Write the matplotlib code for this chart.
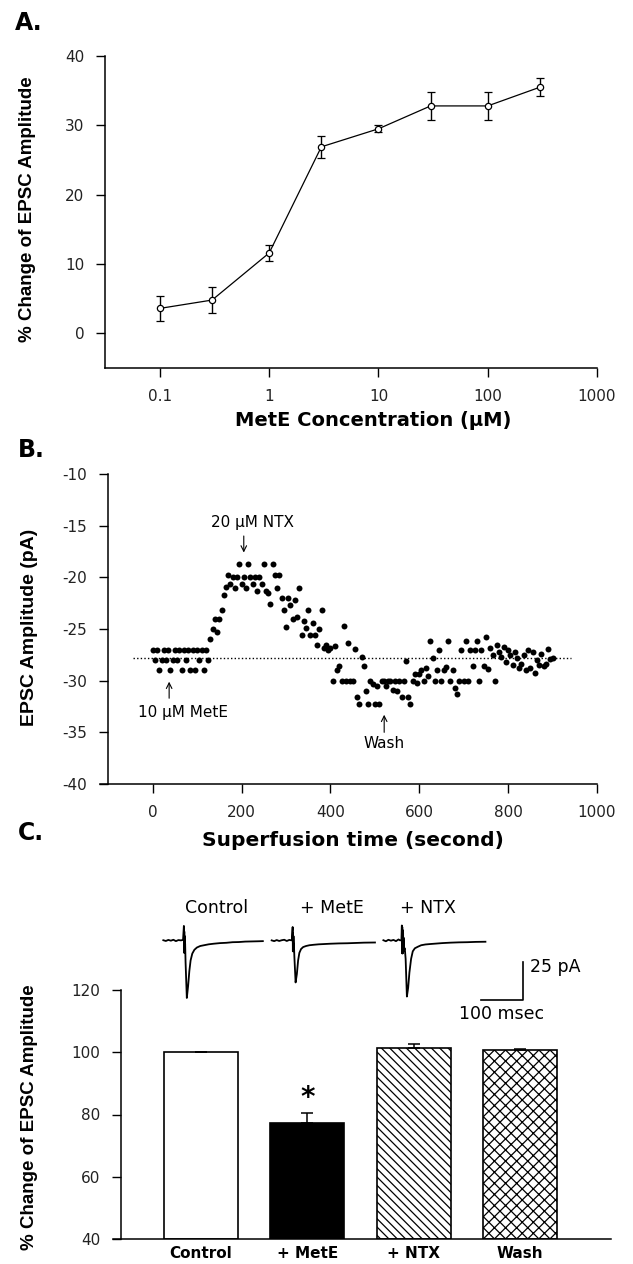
import numpy as np
import matplotlib
matplotlib.use("Agg")
import matplotlib.pyplot as plt
from matplotlib.ticker import NullLocator

plt.rcParams['font.family'] = ['DejaVu Sans']
plt.rcParams['axes.unicode_minus'] = False
plt.rcParams['hatch.linewidth'] = 0.9

# ---- data -------------------------------------------------------------
# A. concentration-response
conc = [0.1, 0.3, 1, 3, 10, 30, 100, 300]
change = [3.6, 4.8, 11.6, 26.9, 29.5, 32.8, 32.8, 35.5]
change_err = [1.8, 1.9, 1.1, 1.6, 0.5, 2.0, 2.0, 1.3]

# B. EPSC amplitude over time, one sample every 5 s (0 ... 900 s)
sample_step = 5
amp_baseline = [-27, -28, -27, -29, -28, -27, -28, -27, -29, -28, -27, -28, -27, -29,
                -27, -28, -27, -29, -27, -29, -27, -28, -27, -29, -27, -28, -26]
amp_rise = [-25, -24, -25.3, -24, -23.2, -21.7, -20.9]
amp_peak = [-19.8, -20.6, -20, -21, -20, -18.7, -20.6, -20, -21, -18.7, -20, -20.6,
            -20, -21.3, -20, -20.6, -18.7]
amp_fall1 = [-21.3, -21.5, -22.6, -18.7, -19.8, -21, -19.8, -22, -23.2, -24.8]
amp_fall2 = [-22, -22.7, -24, -22.2, -23.8, -21, -25.6, -24.2, -24.9, -23.2]
amp_fall3 = [-25.6, -24.4, -25.6, -26.5, -25, -23.2, -26.8, -26.5, -27, -26.8]
amp_dip1 = [-30, -26.6, -29, -28.6, -30, -24.7, -30, -26.4, -30, -30, -26.9, -31.6,
            -32.3, -27.7, -28.6, -31, -32.3, -30, -30.3, -32.3, -30.5, -32.3]
amp_dip2 = [-30, -30, -30.5, -30, -30, -30.9, -30, -31, -30, -31.6, -30, -28.1,
            -31.6, -32.3, -30, -29.4, -30.2, -29.4]
amp_wash1 = [-29, -30, -28.8, -29.5, -26.2, -27.8, -30, -29, -27, -30, -29, -28.7,
             -26.2, -30, -29, -30.7, -31.3, -30, -27, -30]
amp_wash2 = [-26.2, -30, -27, -28.6, -27, -26.2, -30, -27, -28.6, -25.8, -28.9, -26.8,
             -27.5, -30, -26.5, -27.2, -27.7, -26.7, -28.2, -27]
amp_wash3 = [-27.5, -28.5, -27.2, -27.8, -28.8, -28.4, -27.5, -29, -27, -28.8, -27.2,
             -29.3, -28, -28.5, -27.4, -28.6, -28.4, -26.9, -27.9, -27.8]
baseline_level = -27.8

# C. normalised EPSC amplitude
groups = ['Control', '+ MetE', '+ NTX', 'Wash']
pct = [100, 77.4, 101.3, 100.6]
pct_err = [0, 3.2, 1.2, 0.5]

# C. sample EPSC traces (ms, pA)
ctrl_t = [0, 6, 12, 18, 24, 30, 36, 42, 47, 49, 49.5, 50, 50.5, 51, 51.5, 52, 53,
          56, 59, 62, 65, 69, 74, 80, 88, 97, 108, 120, 135, 150, 165, 180, 195, 210, 225, 237]
ctrl_i = [0.3, -0.2, 0.5, 0, 0.6, -0.3, 0.4, 0.2, 0.5, 9.7, -8, 6, -7.5, 3, -6, -2, -14,
          -37.7, -30, -20, -13, -8.5, -6, -4.5, -3.5, -3, -2.4, -2, -1.6, -1.4, -1, -0.9,
          -0.6, -0.5, -0.4, -0.3]
mete_t = [0, 6, 12, 18, 24, 30, 36, 42, 48, 50, 50.5, 51, 51.5, 52, 52.5, 53, 54,
          57, 60, 63, 66, 70, 75, 82, 90, 100, 112, 126, 140, 160, 180, 200, 220, 246]
mete_i = [0.2, -0.3, 0.4, -0.2, 0.3, 0.6, -0.2, 0.5, 0.2, 9, -7, 5, -7, 3, -5, -2, -10,
          -27.5, -22, -13, -8, -5.5, -4.2, -3.5, -3, -2.7, -2.4, -2.2, -2, -1.8, -1.7,
          -1.5, -1.3, -1.2]
ntx_t = [0, 6, 12, 18, 24, 30, 36, 40, 43, 44, 44.5, 45, 45.5, 46, 46.5, 47, 47.5, 48,
         49, 51, 53, 56, 59, 62, 66, 70, 75, 82, 90, 100, 112, 126, 140, 160, 180, 200, 220, 243]
ntx_i = [0.3, -0.4, 0.6, 0, 0.5, -0.3, 0.8, 0.2, 0.4, 10, -8, 9, -8.5, 7, -8, 5, -7, 2,
         -6, -5, -12, -36.8, -31, -21, -12, -7, -5, -4, -3, -2.5, -2.2, -1.9, -1.6, -1.3,
         -1.1, -1, -0.8, -0.7]

amp = (amp_baseline + amp_rise + amp_peak + amp_fall1 + amp_fall2 + amp_fall3 +
       amp_dip1 + amp_dip2 + amp_wash1 + amp_wash2 + amp_wash3)
times = np.arange(len(amp)) * sample_step

# ---- figure -----------------------------------------------------------
W, H = 633, 1264
fig = plt.figure(figsize=(W / 100, H / 100), dpi=100)


def box(l, t, r, b):
    # pixel box -> figure fraction
    return [l / W, 1 - b / H, (r - l) / W, (b - t) / H]


tick_kw = dict(labelsize=11, labelcolor='#222', width=1.0, length=6.5, pad=8.5)
lab_font = dict(family='Liberation Sans', weight='bold', size=13.5)

# ---- A ----
axA = fig.add_axes(box(105, 56, 597, 368))
axA.errorbar(conc, change, yerr=change_err, fmt='-o', color='black', lw=0.9,
             ms=4.5, mfc='white', mew=0.9, capsize=3, elinewidth=1, capthick=1)
axA.set_xscale('log')
axA.set_xlim(10 ** -1.503, 1000)
axA.set_ylim(-5, 40)
axA.set_xticks([0.1, 1, 10, 100, 1000])
axA.set_xticklabels(['0.1', '1', '10', '100', '1000'])
axA.xaxis.set_minor_locator(NullLocator())
axA.set_yticks([0, 10, 20, 30, 40])
axA.set_xlabel('MetE Concentration (\u00b5M)', fontsize=14, fontweight='bold')
axA.xaxis.set_label_coords((373 - 105) / 492, (368 - 420) / 312)
axA.xaxis.label.set_va('center')
axA.set_ylabel('% Change of EPSC Amplitude', **lab_font)
axA.yaxis.set_label_coords((28 - 105) / 492, 0.51)
axA.yaxis.label.set_va('center')

# ---- B ----
axB = fig.add_axes(box(100, 474, 597, 784))
axB.plot(times, amp, 'o', color='black', ms=4.3, mew=0)
axB.hlines(baseline_level, -44, 942, colors='black', linestyles=(0, (1, 1.6)), lw=1.0)
axB.set_xlim(-118.6, 1000)
axB.set_ylim(-40, -10)
axB.spines['left'].set_position(('data', -100))
axB.set_xticks([0, 200, 400, 600, 800, 1000])
axB.set_yticks([-40, -35, -30, -25, -20, -15, -10])
axB.set_xlabel('Superfusion time (second)', fontsize=14.5, fontweight='bold')
axB.xaxis.set_label_coords((353 - 100) / 497, (784 - 840) / 310)
axB.xaxis.label.set_va('center')
axB.set_ylabel('EPSC Amplitude (pA)', family='Liberation Sans', weight='bold', size=14)
axB.yaxis.set_label_coords((30 - 100) / 497, 0.505)
axB.yaxis.label.set_va('center')

arrow = dict(arrowstyle='->', lw=0.8, color='black', shrinkA=0, shrinkB=0)
axB.annotate('', xy=(205, -17.6), xytext=(205, -16.0), arrowprops=arrow)
axB.text(224, -14.7, '20 \u00b5M NTX', ha='center', va='center', fontsize=11)
axB.annotate('', xy=(37, -30.1), xytext=(37, -31.7), arrowprops=arrow)
axB.text(68, -33.1, '10 \u00b5M MetE', ha='center', va='center', fontsize=11)
axB.annotate('', xy=(521, -33.3), xytext=(521, -35.0), arrowprops=arrow)
axB.text(521, -36.1, 'Wash', ha='center', va='center', fontsize=11)

# ---- C ----
axC = fig.add_axes(box(113, 990, 611, 1239))
pos = np.arange(len(groups))
fills = ['white', 'black', 'white', 'white']
hatches = [None, None, '\\\\\\\\', 'xxx']
bars = axC.bar(pos, [p - 40 for p in pct], bottom=40, width=0.696, color=fills,
               edgecolor='black', linewidth=1.2)
for b, h in zip(bars, hatches):
    if h:
        b.set_hatch(h)
axC.errorbar(pos, pct, yerr=[[0] * len(pct), pct_err], fmt='none', ecolor='black',
             elinewidth=1.1, capsize=4, capthick=1.1)
axC.text(pos[1], pct[1] + pct_err[1] + 4.8, '*', ha='center', va='center',
         fontsize=20, fontweight='bold')
axC.set_xlim(-0.8276, 3.856)
axC.set_ylim(40, 120)
axC.spines['left'].set_position(('data', -0.752))
axC.set_yticks([40, 60, 80, 100, 120])
axC.set_xticks(pos)
axC.set_xticklabels(groups, fontsize=13, fontweight='bold')
axC.set_ylabel('% Change of EPSC Amplitude', **lab_font)
axC.yaxis.set_label_coords((30 - 113) / 498, 0.49)
axC.yaxis.label.set_va('center')

for ax in (axA, axB, axC):
    for s in ('top', 'right'):
        ax.spines[s].set_visible(False)
    for s in ('left', 'bottom'):
        ax.spines[s].set_linewidth(1.1)
    ax.tick_params(**tick_kw)
axC.tick_params(axis='x', length=0, pad=5, labelcolor='black')

# sample traces above panel C
axT = fig.add_axes(box(160, 915, 600, 1025))
trace_offsets = [0, 258, 524]
for off, tt, ii in zip(trace_offsets, [ctrl_t, mete_t, ntx_t], [ctrl_i, mete_i, ntx_i]):
    axT.plot(np.array(tt) + off, ii, color='black', lw=1.3)
axT.set_xlim(-7.86, 1039.8)
axT.set_ylim(-55.5, 16.9)
axT.axis('off')
for lbl, x in zip(['Control', '+ MetE', '+ NTX'], [128, 401, 630]):
    axT.text(x, 21.8, lbl, ha='center', va='center', fontsize=12.5, clip_on=False)
# scale bar: 100 ms x 25 pA
axT.plot([756.4, 856.4, 856.4], [-39, -39, -14], color='black', lw=1.2)
axT.text(873, -17.3, '25 pA', ha='left', va='center', fontsize=12.5)
axT.text(806, -48, '100 msec', ha='center', va='center', fontsize=12.5)

# panel letters
fig.text(15 / W, 1 - 30 / H, 'A.', fontsize=17, fontweight='bold')
fig.text(18 / W, 1 - 457 / H, 'B.', fontsize=17, fontweight='bold')
fig.text(18 / W, 1 - 840 / H, 'C.', fontsize=17, fontweight='bold')

fig.savefig('out.png', dpi=100)
